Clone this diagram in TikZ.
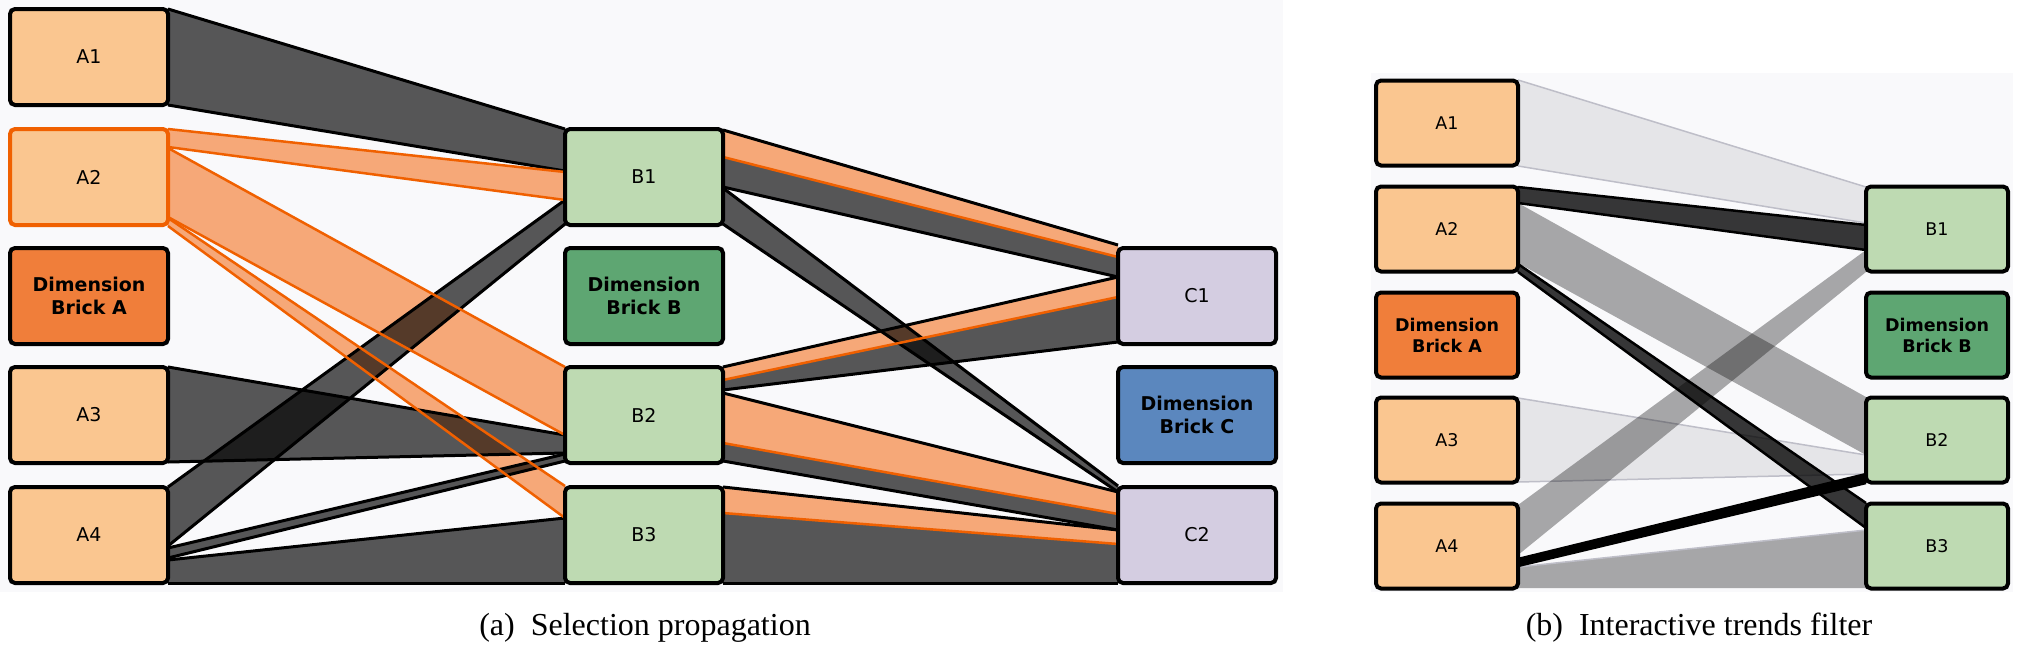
\documentclass[tikz,border=0pt]{standalone}
\usepackage{fontspec}
\setmainfont{Liberation Serif}
\newfontfamily\djv{DejaVu Sans}
\definecolor{bgc}{RGB}{249,249,251}
\definecolor{apeach}{RGB}{250,198,144}
\definecolor{dimAc}{RGB}{240,126,58}
\definecolor{bgreen}{RGB}{190,218,178}
\definecolor{dimBc}{RGB}{94,166,114}
\definecolor{clav}{RGB}{212,205,225}
\definecolor{dimCc}{RGB}{91,135,190}
\definecolor{orfill}{RGB}{246,168,120}
\definecolor{orline}{RGB}{240,96,0}
\definecolor{lightband}{RGB}{229,229,232}
\definecolor{lightedge}{RGB}{190,190,200}
\pgfdeclarelayer{back}\pgfdeclarelayer{rib}\pgfsetlayers{back,rib,main}
\newcommand\rband[7]{\fill[#1] (#2.east |- 0,#3) -- (#5.west |- 0,#6) -- (#5.west |- 0,#7) -- (#2.east |- 0,#4) -- cycle;}
\newcommand\redge[5]{\draw[#1] (#2.east |- 0,#3) -- (#4.west |- 0,#5);}
\begin{document}
\begin{tikzpicture}[x=1pt,y=-1pt,
  brick/.style={draw=black,line width=4pt,rounded corners=5pt,minimum width=158pt,minimum height=96pt,
    inner sep=0pt,outer sep=0pt,align=center,font=\djv\fontsize{19}{23}\selectfont},
  sbrick/.style={brick,minimum width=142pt,minimum height=85pt,font=\djv\fontsize{17.5}{21}\selectfont},
  dimlbl/.style={font=\djv\bfseries\fontsize{19}{23}\selectfont},
  sdimlbl/.style={font=\djv\bfseries\fontsize{17.5}{21}\selectfont},
  grayrib/.style={fill=black,fill opacity=0.65},
  orrib/.style={fill=orfill},
  bedge/.style={draw=black,line width=3pt},
  oedge/.style={draw=orline,line width=2.5pt},
  lightrib/.style={fill=lightband},
  ledge/.style={draw=lightedge,line width=1.5pt},
  medrib/.style={fill=black,fill opacity=0.33},
  darkrib/.style={fill=black,fill opacity=0.78},
  dedge/.style={draw=black,line width=2.5pt},
  captext/.style={font=\fontsize{32}{38}\selectfont}
]
\useasboundingbox (0,0) rectangle (2022,651);
\begin{pgfonlayer}{back}
  \fill[bgc] (0,0) rectangle (1283,592);
  \fill[bgc] (1371,73) rectangle (2013,592);
\end{pgfonlayer}
% ---- panel (a) boxes
\node[brick,fill=apeach] (A1) at (89,57) {A1};
\node[brick,fill=apeach,draw=orline] (A2) at (89,177) {A2};
\node[brick,fill=dimAc,dimlbl] (DA) at (89,296) {Dimension\\Brick A};
\node[brick,fill=apeach] (A3) at (89,415) {A3};
\node[brick,fill=apeach] (A4) at (89,535) {A4};
\node[brick,fill=bgreen] (B1) at (644,177) {B1};
\node[brick,fill=dimBc,dimlbl] (DB) at (644,296) {Dimension\\Brick B};
\node[brick,fill=bgreen] (B2) at (644,415) {B2};
\node[brick,fill=bgreen] (B3) at (644,535) {B3};
\node[brick,fill=clav] (C1) at (1197,296) {C1};
\node[brick,fill=dimCc,dimlbl] (DC) at (1197,415) {Dimension\\Brick C};
\node[brick,fill=clav] (C2) at (1197,535) {C2};
% ---- panel (b) boxes
\node[sbrick,fill=apeach] (bA1) at (1447,123) {A1};
\node[sbrick,fill=apeach] (bA2) at (1447,229) {A2};
\node[sbrick,fill=dimAc,sdimlbl] (bDA) at (1447,335) {Dimension\\Brick A};
\node[sbrick,fill=apeach] (bA3) at (1447,440) {A3};
\node[sbrick,fill=apeach] (bA4) at (1447,546) {A4};
\node[sbrick,fill=bgreen] (bB1) at (1937,229) {B1};
\node[sbrick,fill=dimBc,sdimlbl] (bDB) at (1937,335) {Dimension\\Brick B};
\node[sbrick,fill=bgreen] (bB2) at (1937,440) {B2};
\node[sbrick,fill=bgreen] (bB3) at (1937,546) {B3};
% ---- captions
\node[captext] (capa) at (645,628) {(a)\hspace{0.5em}Selection propagation};
\node[captext] (capb) at (1699,628) {(b)\hspace{0.5em}Interactive trends filter};
\begin{pgfonlayer}{rib}
  % orange fills
  \rband{orrib}{A2}{129}{147}{B1}{172}{200}
  \rband{orrib}{A2}{147}{217}{B2}{367}{435}
  \rband{orrib}{A2}{217}{226}{B3}{486}{518}
  \rband{orrib}{B1}{130}{157}{C1}{245}{257}
  \rband{orrib}{B2}{367}{380}{C1}{277}{297}
  \rband{orrib}{B2}{393}{443}{C2}{492}{514}
  \rband{orrib}{B3}{487}{513}{C2}{530}{544}
  % gray fills
  \rband{grayrib}{A1}{9}{105}{B1}{129}{171}
  \rband{grayrib}{A3}{367}{462}{B2}{435}{453}
  \rband{grayrib}{A4}{487}{546}{B1}{200}{224}
  \rband{grayrib}{A4}{548}{558}{B2}{454}{461}
  \rband{grayrib}{A4}{560}{583}{B3}{518}{583}
  \rband{grayrib}{B1}{157}{187}{C1}{257}{277}
  \rband{grayrib}{B1}{188}{224}{C2}{486}{492}
  \rband{grayrib}{B2}{380}{390}{C1}{297}{342}
  \rband{grayrib}{B2}{443}{461}{C2}{514}{530}
  \rband{grayrib}{B3}{513}{583}{C2}{544}{583}
  % black edges
  \redge{bedge}{A1}{9}{B1}{129}   \redge{bedge}{A1}{105}{B1}{171}
  \redge{bedge}{A3}{367}{B2}{435} \redge{bedge}{A3}{462}{B2}{453}
  \redge{bedge}{A4}{487}{B1}{200} \redge{bedge}{A4}{546}{B1}{224}
  \redge{bedge}{A4}{548}{B2}{454} \redge{bedge}{A4}{558}{B2}{461}
  \redge{bedge}{A4}{560}{B3}{518} \redge{bedge}{A4}{583}{B3}{583}
  \redge{bedge}{B1}{130}{C1}{245} \redge{bedge}{B1}{187}{C1}{277}
  \redge{bedge}{B1}{188}{C2}{486} \redge{bedge}{B1}{224}{C2}{492}
  \redge{bedge}{B2}{367}{C1}{277} \redge{bedge}{B2}{390}{C1}{342}
  \redge{bedge}{B2}{393}{C2}{492} \redge{bedge}{B2}{461}{C2}{530}
  \redge{bedge}{B3}{487}{C2}{530} \redge{bedge}{B3}{583}{C2}{583}
  % orange edges
  \redge{oedge}{A2}{129}{B1}{172} \redge{oedge}{A2}{147}{B1}{200}
  \redge{oedge}{A2}{148}{B2}{367} \redge{oedge}{A2}{217}{B2}{435}
  \redge{oedge}{A2}{218}{B3}{486} \redge{oedge}{A2}{226}{B3}{518}
  \redge{oedge}{B1}{157}{C1}{257} \redge{oedge}{B2}{380}{C1}{297}
  \redge{oedge}{B2}{443}{C2}{514} \redge{oedge}{B3}{513}{C2}{544}
  % ---- panel (b) ribbons
  \rband{lightrib}{bA1}{80}{166}{bB1}{187}{223}
  \rband{lightrib}{bA3}{398}{482}{bB2}{455}{474}
  \redge{ledge}{bA1}{80}{bB1}{187}  \redge{ledge}{bA1}{166}{bB1}{223}
  \redge{ledge}{bA3}{398}{bB2}{455} \redge{ledge}{bA3}{482}{bB2}{474}
  \rband{medrib}{bA2}{203}{263}{bB2}{397}{455}
  \rband{medrib}{bA4}{505}{555}{bB1}{250}{272}
  \rband{medrib}{bA4}{567}{588}{bB3}{530}{588}
  \redge{ledge}{bA4}{567}{bB3}{530}
  \rband{darkrib}{bA2}{187}{203}{bB1}{225}{250}
  \rband{darkrib}{bA2}{264}{272}{bB3}{503}{528}
  \redge{dedge}{bA2}{187}{bB1}{225} \redge{dedge}{bA2}{203}{bB1}{250}
  \redge{dedge}{bA2}{264}{bB3}{503} \redge{dedge}{bA2}{272}{bB3}{528}
  \rband{fill=black}{bA4}{559}{566}{bB2}{474}{483}
  \redge{dedge}{bA4}{559}{bB2}{474} \redge{dedge}{bA4}{566}{bB2}{483}
\end{pgfonlayer}
\end{tikzpicture}
\end{document}
